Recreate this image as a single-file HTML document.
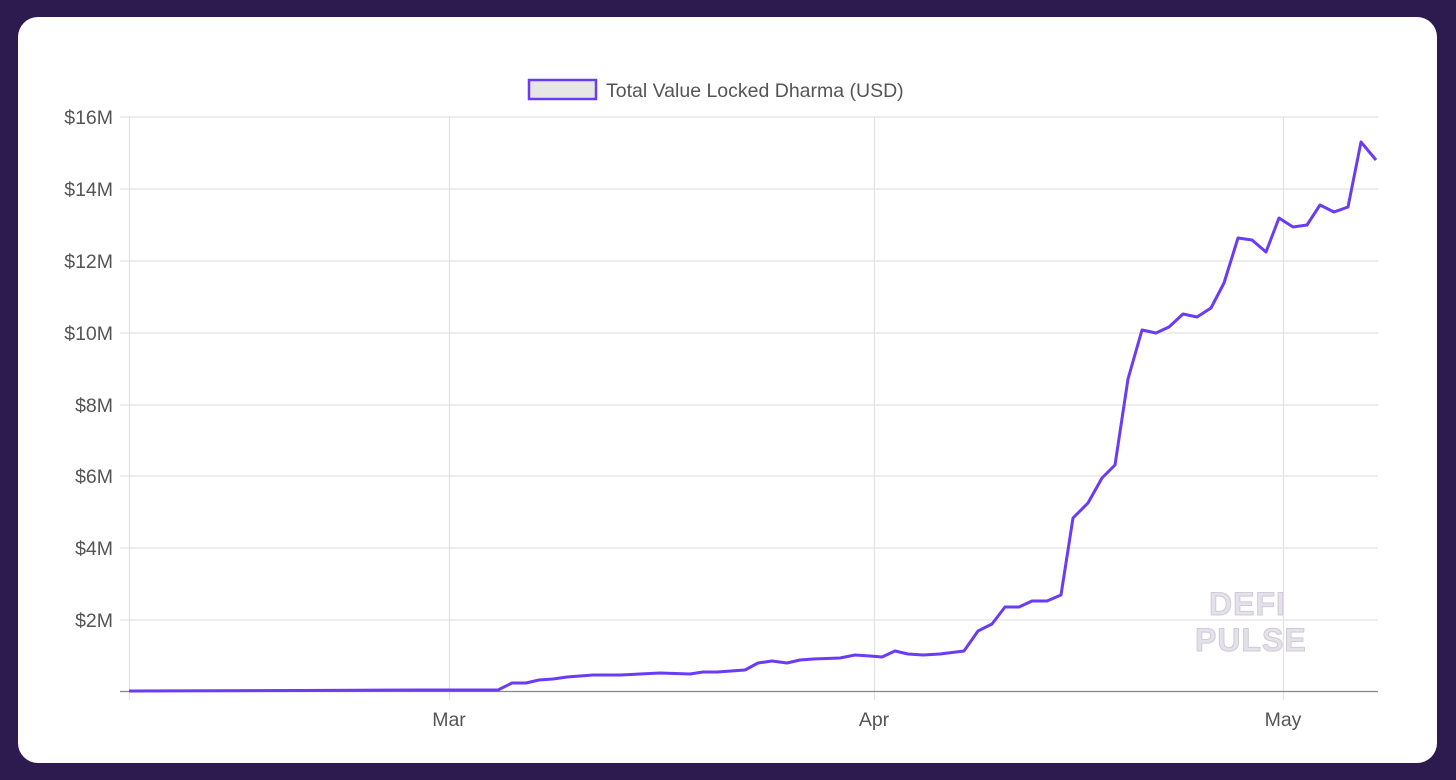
<!DOCTYPE html>
<html><head><meta charset="utf-8"><style>
html,body{margin:0;padding:0;background:#2d1b50;width:1456px;height:780px;overflow:hidden}
.card{position:absolute;left:18px;top:17px;width:1419px;height:746px;background:#fff;border-radius:20px}
svg{position:absolute;left:0;top:0}
text{font-family:"Liberation Sans",Arial,sans-serif}
</style></head><body>
<div class="card"></div>
<svg width="1456" height="780">
<g stroke="#e2e2e2" stroke-width="1.2">
<line x1="120" y1="117" x2="1378" y2="117"/>
<line x1="120" y1="189" x2="1378" y2="189"/>
<line x1="120" y1="261" x2="1378" y2="261"/>
<line x1="120" y1="333" x2="1378" y2="333"/>
<line x1="120" y1="405" x2="1378" y2="405"/>
<line x1="120" y1="476" x2="1378" y2="476"/>
<line x1="120" y1="548" x2="1378" y2="548"/>
<line x1="120" y1="620" x2="1378" y2="620"/>
<line x1="129.5" y1="117" x2="129.5" y2="700"/>
<line x1="449.5" y1="117" x2="449.5" y2="700"/>
<line x1="874.5" y1="117" x2="874.5" y2="700"/>
<line x1="1283.5" y1="117" x2="1283.5" y2="700"/>
</g>
<line x1="120" y1="691.5" x2="1378" y2="691.5" stroke="#888" stroke-width="1.2"/>
<g font-size="19.5" fill="#555" text-anchor="end">
<text x="113" y="124">$16M</text>
<text x="113" y="196">$14M</text>
<text x="113" y="268">$12M</text>
<text x="113" y="340">$10M</text>
<text x="113" y="412">$8M</text>
<text x="113" y="483">$6M</text>
<text x="113" y="555">$4M</text>
<text x="113" y="627">$2M</text>
</g>
<g font-size="19.5" fill="#555" text-anchor="middle">
<text x="449" y="726">Mar</text>
<text x="874" y="726">Apr</text>
<text x="1283" y="726">May</text>
</g>
<rect x="529" y="80" width="67" height="19" fill="#e6e6e6" stroke="#6a3cf5" stroke-width="2.5"/>
<text x="606" y="97" font-size="19.5" fill="#555">Total Value Locked Dharma (USD)</text>
<g font-size="32" font-weight="bold" fill="#e4e1ea" stroke="#cfcbd8" stroke-width="1" letter-spacing="1">
<text x="1209" y="615">DEFI</text>
<text x="1195" y="651">PULSE</text>
</g>
<polyline fill="none" stroke="#6a3cf5" stroke-width="3" stroke-linejoin="round" points="129,691 300,690.5 420,690 498,690 512,683 526,683 539,680 553,679 567,677 593,675 620,675 660,673 690,674 703,672 717,672 745,670 758,663 772,661 787,663 800,660 813,659 840,658 855,655 870,656 882,657 895,651 908,654 923,655 940,654 964,651 978,631 992,624 1005,607 1019,607 1032,601 1047,601 1061,595 1073,518 1088,503 1102,478 1115,465 1128,379 1142,330 1156,333 1169,327 1183,314 1197,317 1211,308 1224,283 1238,238 1252,240 1266,252 1279,218 1293,227 1307,225 1320,205 1334,212 1348,207 1361,142 1376,160"/>
</svg>
</body></html>
